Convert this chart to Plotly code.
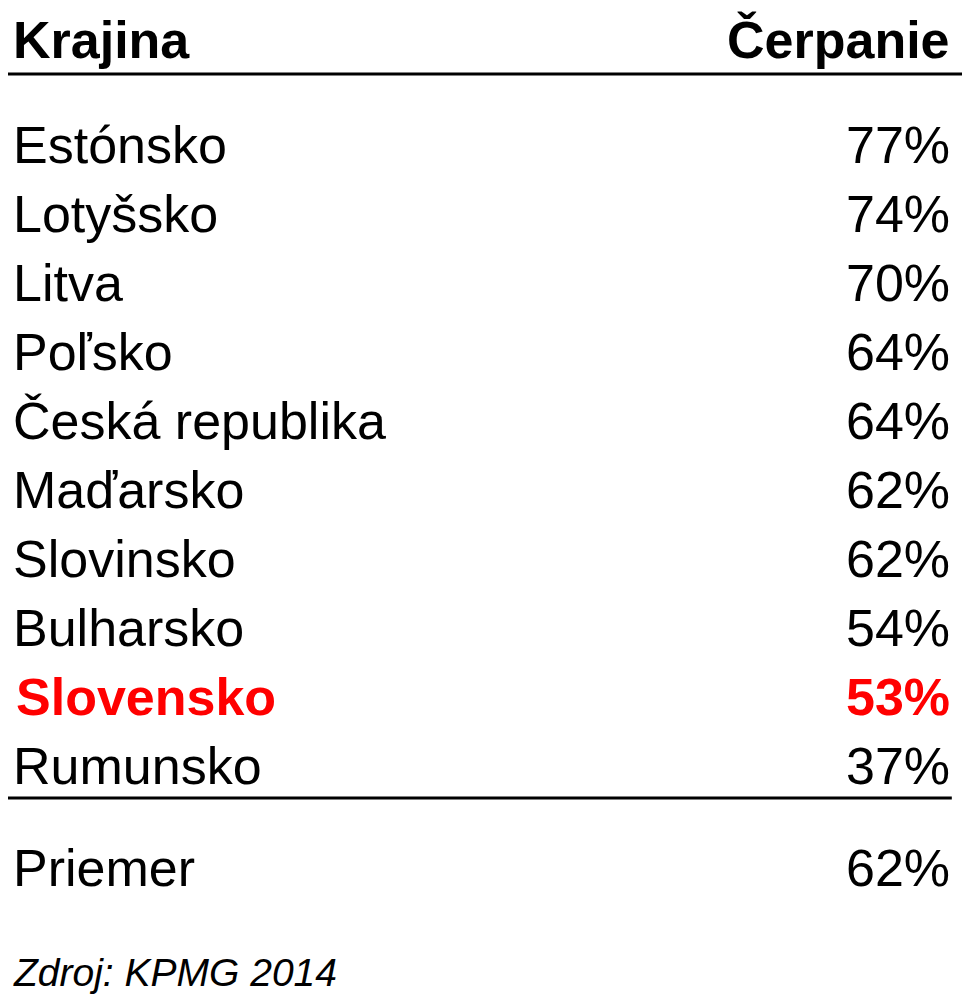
import plotly.graph_objects as go

header = ["Krajina", "Čerpanie"]
countries = ["Estónsko", "Lotyšsko", "Litva", "Poľsko", "Česká republika", "Maďarsko",
             "Slovinsko", "Bulharsko", "Slovensko", "Rumunsko"]
values = [77, 74, 70, 64, 64, 62, 62, 54, 53, 37]
highlight = "Slovensko"
avg_label = "Priemer"
avg_value = 62
source = "Zdroj: KPMG 2014"

W, H = 970, 1006
FONT = "Liberation Sans, Arial, sans-serif"
LX, RX = 12, 946
row_y = [145 + i * 69 for i in range(len(countries))]

fig = go.Figure()
ann = []
def add(x, y, t, anchor, size=52, bold=False, italic=False, color="#000"):
    if bold: t = f"<b>{t}</b>"
    if italic: t = f"<i>{t}</i>"
    ann.append(dict(x=x, y=y, xref="x", yref="y", text=t, showarrow=False,
                    xanchor=anchor, yanchor="middle",
                    font=dict(family=FONT, size=size, color=color)))

add(LX, 40, header[0], "left", size=52, bold=True)
add(RX, 40, header[1], "right", size=52, bold=True)
for c, v, y in zip(countries, values, row_y):
    hl = c == highlight
    col = "#ff0000" if hl else "#000"
    add(LX + (3 if hl else 0), y, c, "left", bold=hl, color=col, size=52)
    add(RX, y, f"{v}%", "right", bold=hl, color=col, size=52)
add(LX, 868, avg_label, "left")
add(RX, 868, f"{avg_value}%", "right")
add(LX, 972, source, "left", size=39, italic=True)

shapes = [
    dict(type="line", x0=5, x1=960, y0=74, y1=74, xref="x", yref="y", line=dict(color="#000", width=3)),
    dict(type="line", x0=5, x1=946, y0=798, y1=798, xref="x", yref="y", line=dict(color="#000", width=3)),
]

fig.update_layout(width=W, height=H, margin=dict(l=0, r=0, t=0, b=0),
                  paper_bgcolor="white", plot_bgcolor="white",
                  xaxis=dict(range=[9, 972], visible=False, fixedrange=True),
                  yaxis=dict(range=[1014, 8], visible=False, fixedrange=True),
                  annotations=ann, shapes=shapes, showlegend=False)
fig.write_html("out.html")
